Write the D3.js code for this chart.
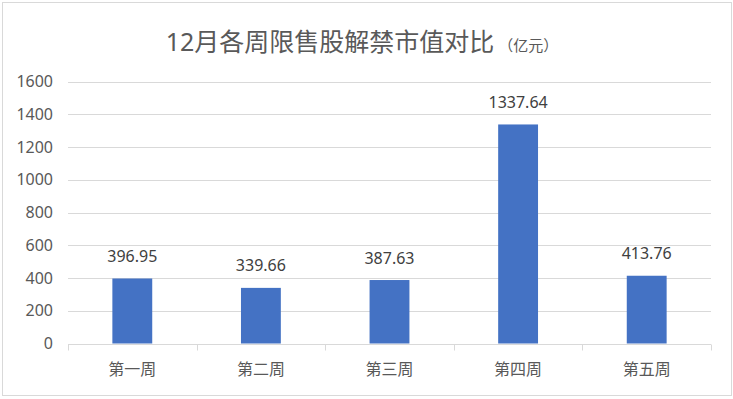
<!DOCTYPE html>
<html><head><meta charset="utf-8">
<script src="https://cdn.jsdelivr.net/npm/d3@7"></script>
<style>body{margin:0;background:#fff}</style>
</head><body>
<svg id="c" width="733" height="399"></svg>
<script>
const categories = ["第一周","第二周","第三周","第四周","第五周"];
const values = [396.95, 339.66, 387.63, 1337.64, 413.76];
const yTicks = [0,200,400,600,800,1000,1200,1400,1600];
const titleMain = "12月各周限售股解禁市值对比";
const titleUnit = "（亿元）";

(function(){
const svg = d3.select("#c");
const font = "'Noto Sans','Noto Sans CJK SC',sans-serif";
svg.append("rect").attr("x",2.5).attr("y",2.5).attr("width",729).attr("height",393)
  .attr("fill","#fff").attr("stroke","#d9d9d9").attr("stroke-width",1);

const pl=68, pr=711, pt=81.5, pb=343.5;
const x = d3.scaleBand().domain(categories).range([pl,pr]).paddingInner(0.69).paddingOuter(0.345);
const y = d3.scaleLinear().domain([0,1600]).range([pb,pt]);

// gridlines
svg.append("g").selectAll("line").data(yTicks.slice(1)).join("line")
  .attr("x1",pl).attr("x2",pr)
  .attr("y1",d=>Math.round(y(d))+0.5).attr("y2",d=>Math.round(y(d))+0.5)
  .attr("stroke","#d9d9d9").attr("stroke-width",1);

// y axis labels
const yAxis = d3.axisLeft(y).tickValues(yTicks).tickSize(0).tickPadding(0).tickFormat(d3.format("d"));
const gy = svg.append("g").attr("transform",`translate(53,0)`).call(yAxis);
gy.select(".domain").remove();
gy.selectAll("text").attr("fill","#595959").style("font-family",font).style("font-size","16px");

// bars
svg.append("g").selectAll("rect").data(values).join("rect")
  .attr("x",(d,i)=>x(categories[i])).attr("width",x.bandwidth())
  .attr("y",d=>y(d)).attr("height",d=>pb-y(d)).attr("fill","#4472c4");

// x axis
const xBound = d3.scaleLinear().domain([0,categories.length]).range([pl,pr]);
const gx = svg.append("g").attr("transform",`translate(0,${Math.round(pb)+0.5})`);
gx.append("line").attr("x1",pl).attr("x2",pr).attr("stroke","#d9d9d9");
gx.selectAll("line.t").data(d3.range(categories.length+1)).join("line").attr("class","t")
  .attr("x1",d=>Math.round(xBound(d))+0.5).attr("x2",d=>Math.round(xBound(d))+0.5)
  .attr("y1",0).attr("y2",6).attr("stroke","#d9d9d9");
svg.append("g").selectAll("text").data(categories).join("text")
  .attr("x",d=>x(d)+x.bandwidth()/2).attr("y",375)
  .attr("text-anchor","middle").attr("fill","#595959")
  .style("font-family",font).style("font-size","16px").text(d=>d);

// data labels
svg.append("g").selectAll("text").data(values).join("text")
  .attr("x",(d,i)=>x(categories[i])+x.bandwidth()/2).attr("y",d=>y(d)-16.5)
  .attr("text-anchor","middle").attr("fill","#404040")
  .style("font-family",font).style("font-size","16px").text(d=>d.toFixed(2));

// title
const t = svg.append("text").attr("x",362).attr("y",51).attr("text-anchor","middle")
  .attr("fill","#595959").style("font-family",font);
t.append("tspan").style("font-size","25px").text(titleMain);
t.append("tspan").attr("dx",4).style("font-size","15px").text(titleUnit);
})();
</script>
</body></html>
